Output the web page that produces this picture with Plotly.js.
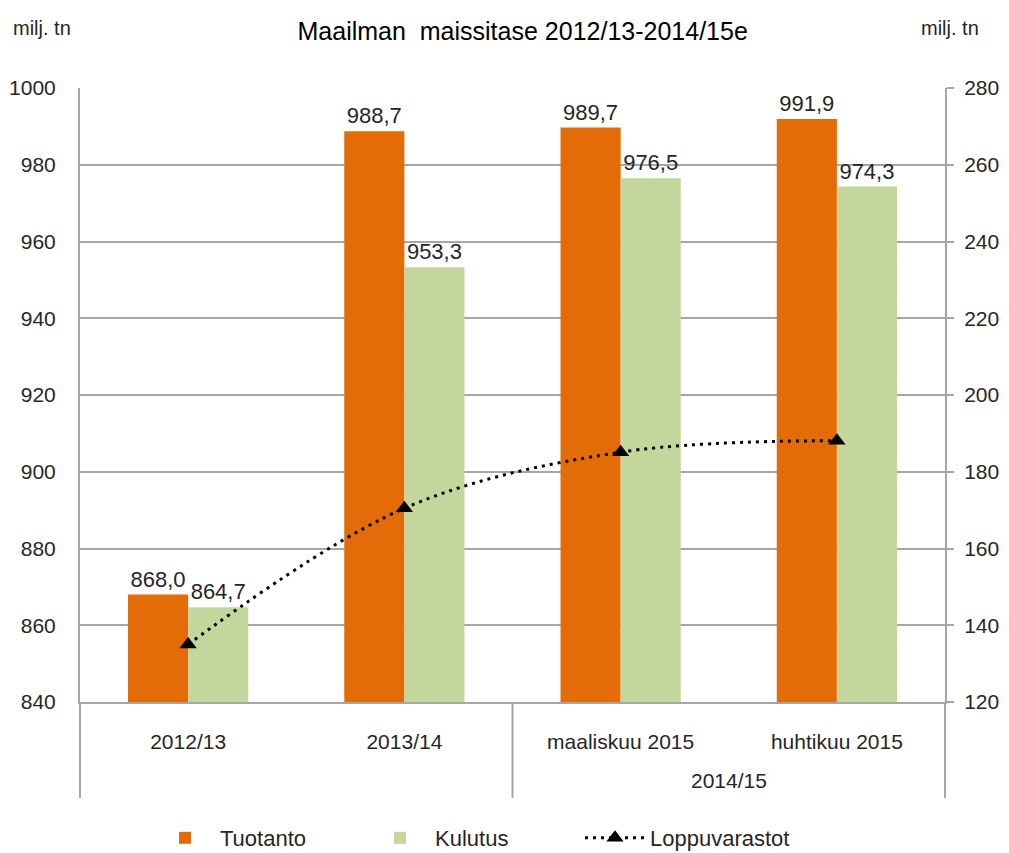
<!DOCTYPE html>
<html>
<head>
<meta charset="utf-8">
<script src="https://cdn.plot.ly/plotly-3.0.1.min.js"></script>
<style>html,body{margin:0;padding:0;background:#fff;}#chart{width:1009px;height:853px;}</style>
</head>
<body>
<div id="chart"></div>
<script>
const categories = ["2012/13", "2013/14", "maaliskuu 2015", "huhtikuu 2015"];
const tuotanto = [868.0, 988.7, 989.7, 991.9];
const kulutus = [864.7, 953.3, 976.5, 974.3];
const loppuvarastot = [135.0, 170.5, 185.1, 188.1];
const groupLabel = "2014/15";
const leftTicks = [840, 860, 880, 900, 920, 940, 960, 980, 1000];
const rightTicks = [120, 140, 160, 180, 200, 220, 240, 260, 280];

const fmt = v => v.toFixed(1).replace('.', ',');
const FONT = "Liberation Sans, Arial, sans-serif";
const TXT = "#262626";
const GRID = "#a6a6a6";

const traces = [
  {
    type: 'bar', name: 'Tuotanto', x: categories, y: tuotanto,
    marker: {color: '#E36C09'},
    text: tuotanto.map(fmt), textposition: 'outside', constraintext: 'none',
    cliponaxis: false, textfont: {family: FONT, size: 22, color: TXT},
    hoverinfo: 'skip'
  },
  {
    type: 'bar', name: 'Kulutus', x: categories, y: kulutus,
    marker: {color: '#C3D69B'},
    text: kulutus.map(fmt), textposition: 'outside', constraintext: 'none',
    cliponaxis: false, textfont: {family: FONT, size: 22, color: TXT},
    hoverinfo: 'skip'
  },
  {
    type: 'scatter', mode: 'lines+markers', name: 'Loppuvarastot',
    x: categories, y: loppuvarastot, yaxis: 'y2',
    line: {color: '#000', width: 3, dash: '3px,5px', shape: 'spline'},
    marker: {symbol: 'triangle-up', size: 15, color: '#000'},
    cliponaxis: false, hoverinfo: 'skip'
  }
];

const layout = {
  width: 1009, height: 853,
  margin: {l: 80, r: 64, t: 88, b: 151},
  paper_bgcolor: '#fff', plot_bgcolor: '#fff',
  font: {family: FONT, size: 21, color: TXT},
  title: {text: 'Maailman  maissitase 2012/13-2014/15e', x: 0.518, xanchor: 'center',
          y: 1 - 31/853, yanchor: 'middle', font: {family: FONT, size: 25, color: '#000'}},
  barmode: 'group', bargap: 0.444, bargroupgap: 0,
  showlegend: true,
  legend: {orientation: 'h', xref: 'container', yref: 'container',
           x: 150/1009, xanchor: 'left', y: 1 - 838/853, yanchor: 'middle',
           font: {family: FONT, size: 22, color: TXT}, itemwidth: 60,
           entrywidth: 140, tracegroupgap: 0},
  xaxis: {
    type: 'category', showgrid: false, showline: true, linecolor: GRID, linewidth: 2,
    ticks: '', ticklabelstandoff: 20, tickfont: {family: FONT, size: 21, color: TXT},
    fixedrange: true, automargin: false
  },
  yaxis: {
    range: [840, 1000], tickvals: leftTicks, ticktext: leftTicks.map(String),
    showgrid: true, gridcolor: GRID, gridwidth: 2,
    showline: true, linecolor: GRID, linewidth: 2, ticks: '', zeroline: false,
    ticklabelstandoff: 18, tickfont: {family: FONT, size: 21, color: TXT},
    fixedrange: true, automargin: false
  },
  yaxis2: {
    range: [120, 280], tickvals: rightTicks, ticktext: rightTicks.map(String),
    overlaying: 'y', side: 'right', showgrid: false, zeroline: false,
    showline: true, linecolor: GRID, linewidth: 2,
    ticks: 'outside', ticklen: 7, tickcolor: GRID, tickwidth: 2,
    ticklabelstandoff: 6, tickfont: {family: FONT, size: 21, color: TXT},
    fixedrange: true, automargin: false
  },
  shapes: [0, 0.5, 1].map(xp => ({
    type: 'line', xref: 'paper', yref: 'paper', x0: xp, x1: xp, y0: 0, y1: -96/614,
    line: {color: GRID, width: 2}
  })),
  annotations: [
    {text: groupLabel, xref: 'paper', yref: 'paper', x: 0.75, y: -78/614,
     xanchor: 'center', yanchor: 'middle', showarrow: false,
     font: {family: FONT, size: 21, color: TXT}},
    {text: 'milj. tn', xref: 'paper', yref: 'paper', x: -38/865, y: 1 + 60/614,
     xanchor: 'center', yanchor: 'middle', showarrow: false,
     font: {family: FONT, size: 20, color: TXT}},
    {text: 'milj. tn', xref: 'paper', yref: 'paper', x: 1 + 5/865, y: 1 + 60/614,
     xanchor: 'center', yanchor: 'middle', showarrow: false,
     font: {family: FONT, size: 20, color: TXT}}
  ]
};

Plotly.newPlot('chart', traces, layout, {displayModeBar: false, staticPlot: true});
</script>
</body>
</html>
